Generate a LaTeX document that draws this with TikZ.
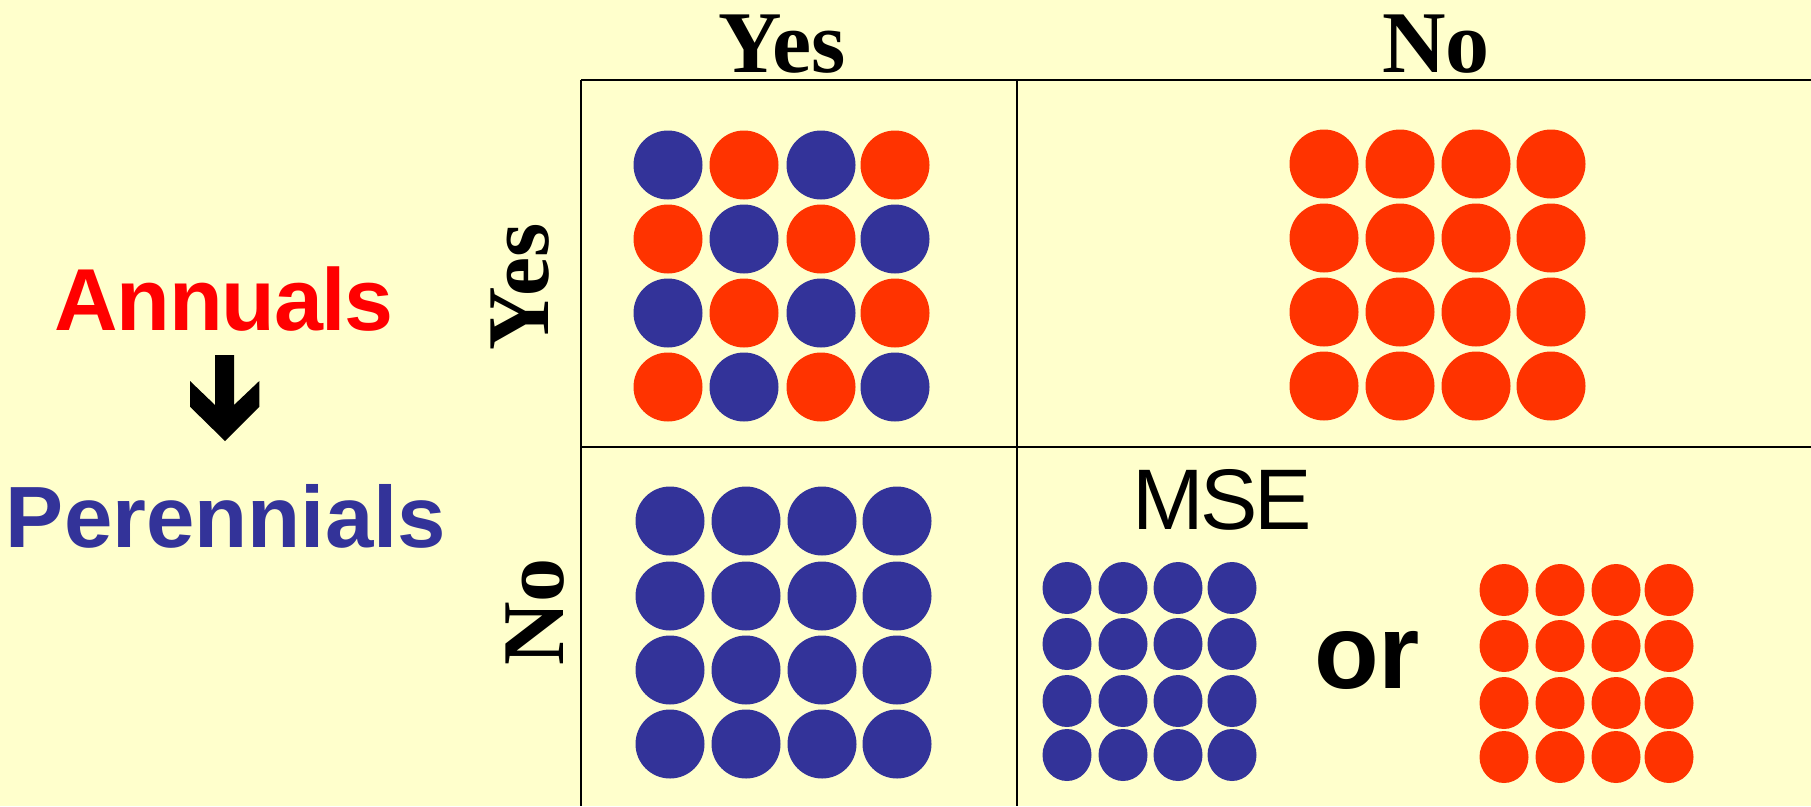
\documentclass[tikz,border=0pt]{standalone}
\usepackage{fontspec}
\setmainfont{Liberation Serif}
\newfontfamily\arialfont{Liberation Sans}
\newfontfamily\arialtight{Liberation Sans}[LetterSpace=-1.5]
\newfontfamily\arialtighter{Liberation Sans}[LetterSpace=-4]
\usetikzlibrary{shapes.geometric}
\definecolor{bgyellow}{HTML}{FFFFCC}
\definecolor{dotred}{HTML}{FF3300}
\definecolor{dotblue}{HTML}{333399}
\definecolor{annred}{HTML}{FF0000}
\begin{document}
\begin{tikzpicture}[x=1pt,y=-1pt,
  bigdot/.style={circle, inner sep=0pt, minimum size=69pt},
  smalldot/.style={ellipse, inner sep=0pt, minimum width=49pt, minimum height=52pt},
  gridline/.style={line width=1.8pt, draw=black},
  hdr/.style={font=\fontsize{88}{100}\selectfont\bfseries, inner sep=0pt, anchor=base},
  sidehdr/.style={hdr, rotate=90},
  sanslbl/.style={inner sep=0pt, anchor=base}]
\fill[bgyellow] (0,0) rectangle (1811,806);
\useasboundingbox (0,0) rectangle (1811,806);

% grid
\coordinate (tl) at (581,80);
\coordinate (tr) at (1811,80);
\coordinate (tm) at (1017,80);
\coordinate (ml) at (581,447);
\coordinate (mr) at (1811,447);
\coordinate (bl) at (581,806);
\coordinate (bm) at (1017,806);
\draw[gridline] (tl) -- (tr);
\draw[gridline] (ml) -- (mr);
\draw[gridline] (tl) -- (bl);
\draw[gridline] (tm) -- (bm);

% headers
\node[hdr] (colyes) at (782,72) {Yes};
\node[hdr] (colno) at (1436,72) {No};
\node[sidehdr] (rowyes) at (548,287) {Yes};
\node[sidehdr] (rowno) at (563,612) {No};

% left labels
\node[sanslbl, font=\fontsize{88}{100}\selectfont\arialtight\bfseries, text=annred] (annuals) at (224,330) {Annuals};
\node[sanslbl, font=\fontsize{87}{100}\selectfont\arialfont\bfseries, text=dotblue] (perennials) at (226,547) {Perennials};
\fill[black] (215,355) -- (234,355) -- (234,405) -- (259.3,381) -- (259.3,406.7) -- (225,441) -- (190,406.7) -- (190,381) -- (215,405) -- cycle;

% top-left: checkerboard
\foreach \x [count=\j] in {668,744,821,895}
  \foreach \y [count=\i] in {165,239,313,387} {
    \pgfmathtruncatemacro\k{mod(\i+\j,2)}
    \ifnum\k=0
      \node[bigdot, fill=dotblue] (tl\i\j) at (\x,\y) {};
    \else
      \node[bigdot, fill=dotred] (tl\i\j) at (\x,\y) {};
    \fi
  }
% top-right: all red
\foreach \x [count=\j] in {1324,1400,1476,1551}
  \foreach \y [count=\i] in {164,238,312,386}
    \node[bigdot, fill=dotred] (tr\i\j) at (\x,\y) {};
% bottom-left: all blue
\foreach \x [count=\j] in {670,746,822,897}
  \foreach \y [count=\i] in {521,596,670,744}
    \node[bigdot, fill=dotblue] (bl\i\j) at (\x,\y) {};
% bottom-right
\node[sanslbl, font=\fontsize{86}{100}\selectfont\arialtighter] (mse) at (1222,529) {MSE};
\foreach \x [count=\j] in {1067,1123,1178,1232}
  \foreach \y [count=\i] in {588,644,701,755}
    \node[smalldot, fill=dotblue] (bb\i\j) at (\x,\y) {};
\node[sanslbl, font=\fontsize{106}{120}\selectfont\arialfont\bfseries] (orword) at (1367,688) {or};
\foreach \x [count=\j] in {1504,1560,1616,1669}
  \foreach \y [count=\i] in {590,646,703,757}
    \node[smalldot, fill=dotred] (br\i\j) at (\x,\y) {};
\end{tikzpicture}
\end{document}
